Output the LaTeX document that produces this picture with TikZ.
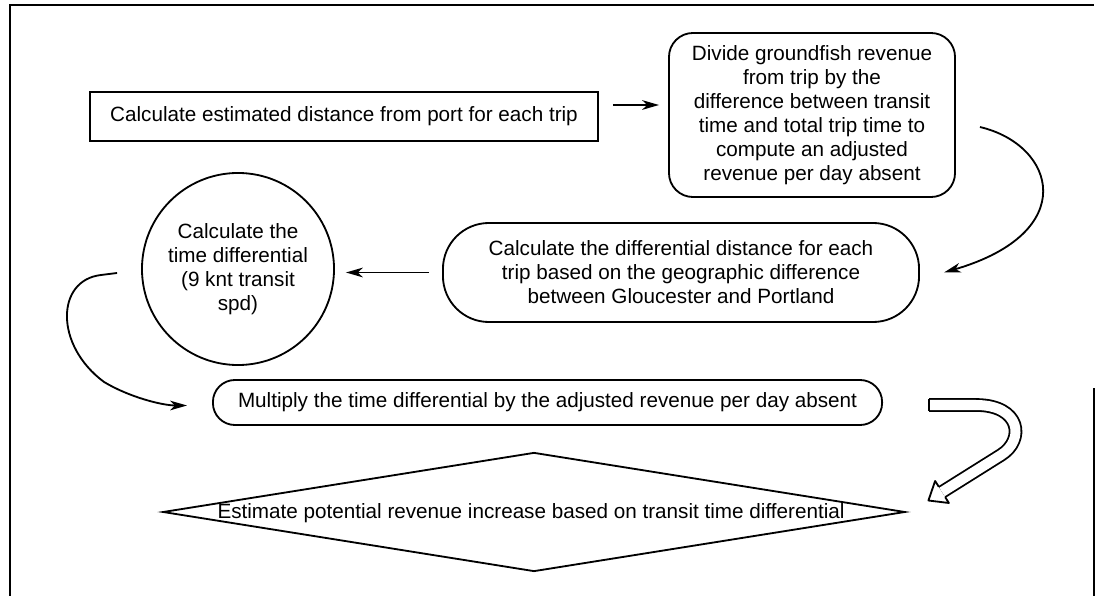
\documentclass[tikz,border=0pt]{standalone}
\usepackage{fontspec}
\setmainfont{Liberation Sans}
\usetikzlibrary{calc,arrows.meta,shapes.geometric}
\tikzset{
	stepbox/.style={draw, line width=1.3pt, align=center, inner sep=0pt},
	arr/.style={line width=1.3pt, -{Stealth[length=0.42cm, width=0.24cm, inset=0.12cm]}},
}

\begin{document}
\begin{tikzpicture}[x=0.025cm, y=-0.025cm, font=\fontsize{14.7}{17}\selectfont]
		%%%%% START %%%%%
		\useasboundingbox (0,0) rectangle (1096,596);
		
		% frame
		\draw[line width=1.4pt] (10,596) -- (10,5) -- (1094,5);
		\draw[line width=1.4pt] (1094,388) -- (1094,596);
		
		\node[stepbox, minimum width=12.7cm, minimum height=1.225cm] (calc) at (344,116.5) {Calculate estimated distance from port for each trip};
		\node[stepbox, rounded corners=0.6cm, minimum width=7.15cm, minimum height=4.1cm] (divide) at (812,115) {Divide groundfish revenue\\from trip by the\\difference between transit\\time and total trip time to\\compute an adjusted\\revenue per day absent};
		\node[stepbox, rounded corners=1.15cm, minimum width=11.9cm, minimum height=2.475cm] (diffdist) at (681,272.5) {Calculate the differential distance for each\\trip based on the geographic difference\\between Gloucester and Portland};
		\node[stepbox, circle, minimum size=4.8cm] (tdiff) at (238,269) {Calculate the\\time differential\\(9 knt transit\\spd)};
		\node[stepbox, rounded corners=0.55cm, minimum width=16.725cm, minimum height=1.125cm] (multiply) at (547.5,402.5) {Multiply the time differential by the adjusted revenue per day absent};
		\node[draw, line width=1.3pt, diamond, inner sep=0pt, minimum width=18.55cm, minimum height=2.975cm] (est) at (534,512) {};
		\node (estlbl) at (531,513) {Estimate potential revenue increase based on transit time differential};
		
		% arrows
		\draw[arr] ($(calc.east)+(14,-11.5)$) -- ($(divide.west)+(-9,-10)$);
		\draw[arr] ($(divide.east)+(24,12)$) .. controls +(76,18) and +(137,-40) .. ($(diffdist.east)+(24,0)$);
		\draw[arr] ($(diffdist.west)+(-13,0)$) -- ($(tdiff.east |- diffdist.west)+(11,0)$);
		\draw[arr] ($(tdiff.west)+(-24,4)$) -- ++(-16,2) .. controls +(-45,5) and +(-50,-37) .. ++(3,107) .. controls +(25,15) and +(-25,0) .. ($(multiply.west)+(-25,3)$);
		
		% hollow arrow
		\coordinate (tail) at ($(multiply.east)+(46,2.5)$);
		\coordinate (shaftend) at ($(est.east)+(36,-20)$);
		\draw[line width=1.3pt, double distance=0.25cm, line join=round] (tail) -- ++(47,0) .. controls +(45,0) and +(24,-15) .. ++(25,50) -- (shaftend);
		\draw[line width=1.3pt] (tail) ++(0,-6.1) -- ++(0,12.2);
		\draw[line width=1.3pt, line join=round] ($(shaftend)+(-3.2,-5.2)$) -- ($(shaftend)+(-6.9,-11)$) -- ($(shaftend)+(-13.6,8.5)$) -- ($(shaftend)+(6.9,11)$) -- ($(shaftend)+(3.2,5.2)$);
		
		%%%%% END %%%%%
\end{tikzpicture}
\end{document}
